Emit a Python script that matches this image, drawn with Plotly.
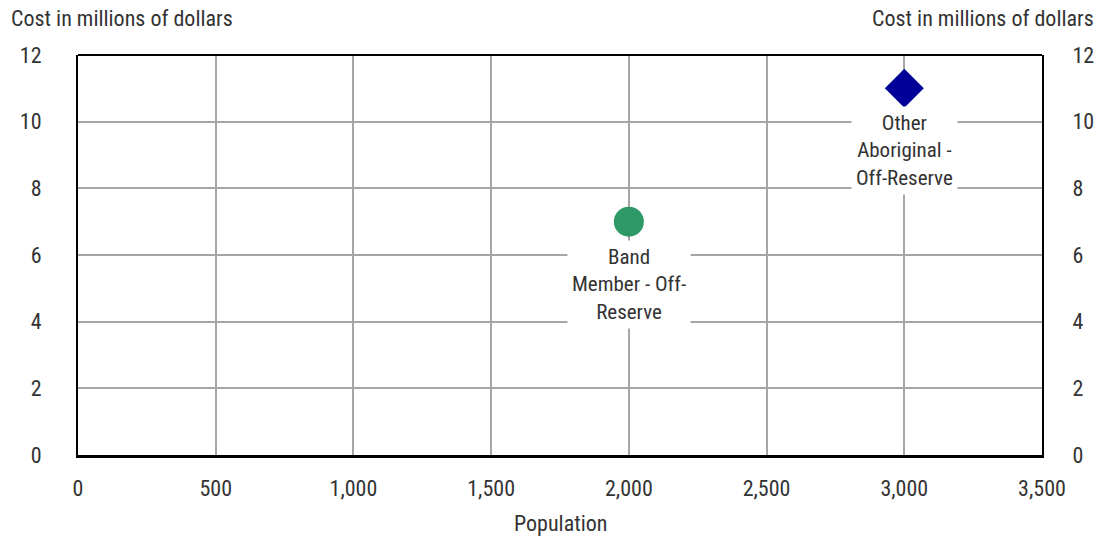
import plotly.graph_objects as go

categories = ["Band<br>Member - Off-<br>Reserve", "Other<br>Aboriginal -<br>Off-Reserve"]
population = [2000, 3000]
cost = [7, 11]
symbols = ["circle", "diamond"]
colors = ["#2e9966", "#000099"]
x_ticks = [0, 500, 1000, 1500, 2000, 2500, 3000, 3500]
x_tick_labels = ["0", "500", "1,000", "1,500", "2,000", "2,500", "3,000", "3,500"]
y_ticks = [0, 2, 4, 6, 8, 10, 12]

FONT = "Liberation Sans Narrow, Roboto Condensed, Roboto, sans-serif"
TXT = "#333333"
FS = 22

fig = go.Figure()
for i in range(len(categories)):
    fig.add_trace(go.Scatter(
        x=[population[i]], y=[cost[i]], mode="markers",
        marker=dict(symbol=symbols[i], size=30 if symbols[i] == "circle" else 30,
                    color=colors[i], line=dict(width=0)),
        showlegend=False, hoverinfo="skip"))
    fig.add_annotation(x=population[i], y=cost[i], text=categories[i],
                       showarrow=False, yanchor="top", yshift=-18,
                       bgcolor="white", borderpad=4,
                       font=dict(family=FONT, size=21, color=TXT))

fig.add_trace(go.Scatter(x=[None], y=[None], yaxis="y2", showlegend=False))

fig.update_layout(
    width=1106, height=537,
    margin=dict(l=78, r=61, t=55, b=82),
    plot_bgcolor="white", paper_bgcolor="white",
    font=dict(family=FONT, size=FS, color=TXT),
    xaxis=dict(range=[0, 3500], tickvals=x_ticks, ticktext=x_tick_labels,
               showgrid=True, gridcolor="#a6a6a6", gridwidth=1.5,
               showline=True, linecolor="black", linewidth=3,
               zeroline=False, ticks="", ticklabelstandoff=12),
    yaxis=dict(range=[0, 12], tickvals=y_ticks,
               showgrid=True, gridcolor="#a6a6a6", gridwidth=1.5,
               showline=True, linecolor="black", linewidth=2,
               zeroline=False, ticks="", ticklabelstandoff=30),
    yaxis2=dict(range=[0, 12], tickvals=y_ticks, overlaying="y", side="right",
                showgrid=False, showline=True, linecolor="black", linewidth=2,
                zeroline=False, ticks="", ticklabelstandoff=24),
    shapes=[dict(type="line", xref="paper", yref="paper", x0=0, x1=1, y0=1, y1=1,
                 line=dict(color="black", width=2))],
    annotations=list(fig.layout.annotations) + [
        dict(text="Cost in millions of dollars", xref="paper", yref="paper",
             x=-78/967, y=1, yshift=37, xshift=9, xanchor="left", yanchor="middle",
             showarrow=False, font=dict(family=FONT, size=FS, color=TXT)),
        dict(text="Cost in millions of dollars", xref="paper", yref="paper",
             x=1 + 61/967, y=1, yshift=37, xshift=-7, xanchor="right", yanchor="middle",
             showarrow=False, font=dict(family=FONT, size=FS, color=TXT)),
        dict(text="Population", xref="paper", yref="paper",
             x=0.5, y=0, yshift=-68, xanchor="center", yanchor="middle",
             showarrow=False, font=dict(family=FONT, size=FS, color=TXT)),
    ],
)

fig.write_html("out.html", config={"displayModeBar": False},
               post_script="document.body.style.margin='0';")
